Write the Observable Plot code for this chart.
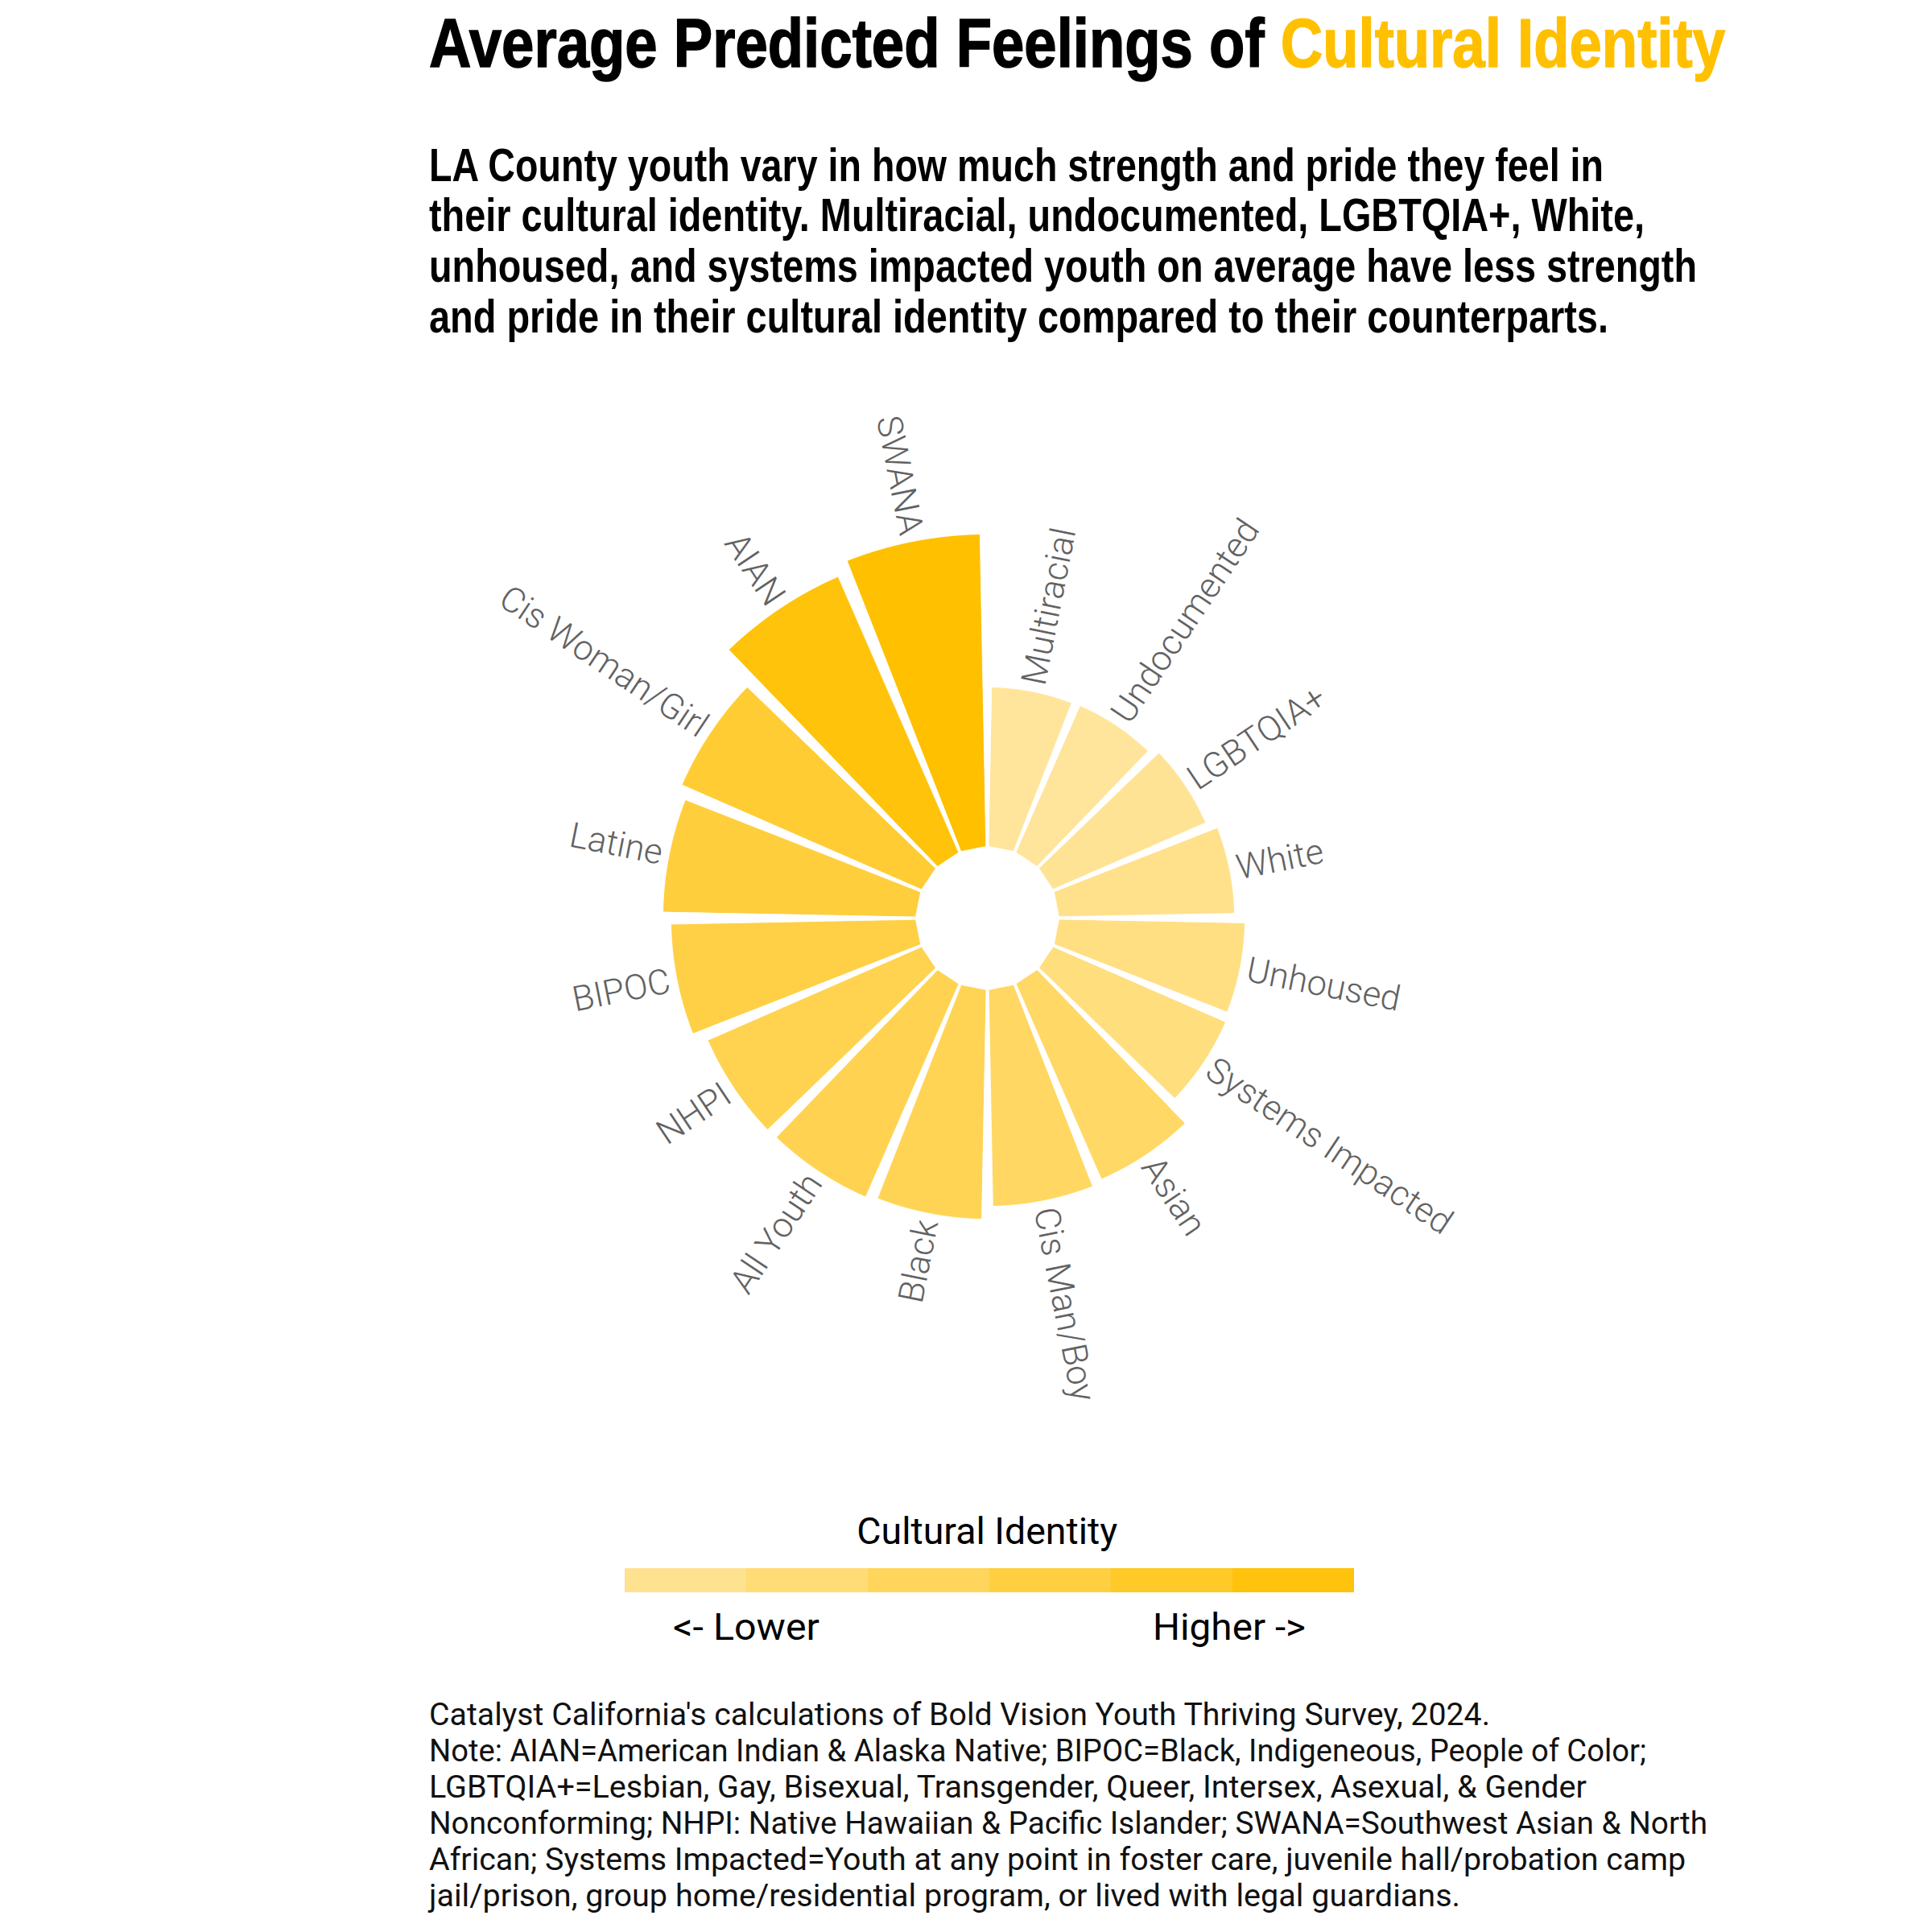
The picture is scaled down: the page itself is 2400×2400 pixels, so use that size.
<!DOCTYPE html>
<html>
<head>
<meta charset="utf-8">
<script src="https://cdn.jsdelivr.net/npm/d3@7"></script>
<script src="https://cdn.jsdelivr.net/npm/@observablehq/plot@0.6"></script>
<style>
  html, body { margin: 0; padding: 0; background: #fff; }
  #root { position: relative; width: 2400px; height: 2400px; background: #fff; overflow: hidden; }
  .line { position: absolute; white-space: pre; line-height: 1; display: inline-block; }
  #chart { position: absolute; left: 0; top: 470px; }
  #legendbar { position: absolute; left: 776px; top: 1948px; }
</style>
</head>
<body>
<div id="root"></div>
<script>
// ---------------- DATA ----------------
const categories = ["Multiracial", "Undocumented", "LGBTQIA+", "White", "Unhoused", "Systems Impacted",
  "Asian", "Cis Man/Boy", "Black", "All Youth", "NHPI", "BIPOC", "Latine", "Cis Woman/Girl", "AIAN", "SWANA"];
const values = [1.98, 1.99, 2.07, 2.18, 2.31, 2.34, 2.65, 2.69, 2.85, 2.89, 2.90, 3.04, 3.14, 3.25, 3.74, 3.88];
const legendSteps = [2.14, 2.46, 2.77, 3.09, 3.41, 3.72];
const legendTitle = "Cultural Identity";
const legendLow = "<- Lower";
const legendHigh = "Higher ->";
const titleParts = ["Average Predicted Feelings of ", "Cultural Identity"];
const subtitleLines = [
  "LA County youth vary in how much strength and pride they feel in",
  "their cultural identity. Multiracial, undocumented, LGBTQIA+, White,",
  "unhoused, and systems impacted youth on average have less strength",
  "and pride in their cultural identity compared to their counterparts."
];
const captionLines = [
  "Catalyst California's calculations of Bold Vision Youth Thriving Survey, 2024.",
  "Note: AIAN=American Indian & Alaska Native; BIPOC=Black, Indigeneous, People of Color;",
  "LGBTQIA+=Lesbian, Gay, Bisexual, Transgender, Queer, Intersex, Asexual, & Gender",
  "Nonconforming; NHPI: Native Hawaiian & Pacific Islander; SWANA=Southwest Asian & North",
  "African; Systems Impacted=Youth at any point in foster care, juvenile hall/probation camp",
  "jail/prison, group home/residential program, or lived with legal guardians."
];

const data = categories.map((category, i) => ({category, value: values[i]}));

// ---------------- SCALES ----------------
const GOLD = "#FFC000";
const colorOpts = {type: "linear", domain: [d3.min(values), d3.max(values)], range: ["#FFE59C", GOLD], interpolate: "rgb"};
const angle = d3.scaleBand(categories, [0, 360]);              // degrees, clockwise from top
const mid = (c) => angle(c) + angle.bandwidth() / 2;
const rScale = d3.scaleLinear([0, d3.max(values)], [89, 477]);  // radial scale (px)
const CX = 1226, CY = 670;                                       // polar origin inside the plot frame
const PAD = 1.1;                                                 // angular padding (deg) each side
const LABEL_GAP = 9 / (rScale(1) - rScale(0));                   // 9px in value units

const polar = () => d3.geoTransform({
  point(lon, lat) {
    const a = lon * Math.PI / 180, r = rScale(lat);
    this.stream.point(CX + r * Math.sin(a), CY - r * Math.cos(a));
  }
});

function barGeometry(d) {
  const a0 = angle(d.category) + PAD, a1 = angle(d.category) + angle.bandwidth() - PAD;
  const ring = [];
  const n = 48;
  for (let k = 0; k <= n; k++) ring.push([a0 + (a1 - a0) * k / n, d.value]);
  ring.push([a1, 0], [a0, 0], [a0, d.value]);
  return {type: "Polygon", coordinates: [ring]};
}

const rightSide = data.filter(d => mid(d.category) < 180);
const leftSide = data.filter(d => mid(d.category) >= 180);

const labelStyle = {fontSize: 43.5, fontWeight: 300, fill: "#626262", fontFamily: "Roboto"};

const chart = Plot.plot({
  width: 2400,
  height: 1330,
  margin: 0,
  style: {background: "transparent", fontFamily: "Roboto"},
  projection: {type: polar},
  color: colorOpts,
  marks: [
    Plot.geo(data, {geometry: barGeometry, fill: "value", stroke: "white", strokeWidth: 0.8}),
    Plot.text(rightSide, {
      x: d => mid(d.category), y: d => d.value + LABEL_GAP, text: "category",
      rotate: d => mid(d.category) - 90, textAnchor: "start", ...labelStyle
    }),
    Plot.text(leftSide, {
      x: d => mid(d.category), y: d => d.value + LABEL_GAP, text: "category",
      rotate: d => mid(d.category) - 270, textAnchor: "end", ...labelStyle
    })
  ]
});
chart.id = "chart";

const legendBar = Plot.plot({
  width: 906,
  height: 30,
  margin: 0,
  style: {background: "transparent"},
  x: {type: "band", domain: legendSteps, padding: 0, axis: null},
  color: colorOpts,
  marks: [Plot.cell(legendSteps, {x: d => d, fill: d => d})]
});
legendBar.id = "legendbar";

const root = document.getElementById("root");
root.appendChild(chart);
root.appendChild(legendBar);

// ---------------- TEXT LAYOUT ----------------
function addLine(parts, {x, baseline, size, family, weight = 400, color = "#000", width, anchor = "start", stroke = 0}) {
  const el = document.createElement("div");
  el.className = "line";
  el.style.fontFamily = family;
  el.style.fontSize = size + "px";
  el.style.fontWeight = weight;
  el.style.color = color;
  if (stroke) el.style.webkitTextStroke = stroke + "px currentColor";
  el.style.top = (baseline - 0.843 * size) + "px";
  (Array.isArray(parts) ? parts : [[parts, color]]).forEach(([t, c]) => {
    const s = document.createElement("span");
    s.textContent = t;
    s.style.color = c;
    el.appendChild(s);
  });
  root.appendChild(el);
  const w = el.getBoundingClientRect().width;
  const k = width / w;
  if (anchor === "middle") {
    el.style.left = (x - w / 2) + "px";
    el.style.transformOrigin = "50% 50%";
  } else {
    el.style.left = x + "px";
    el.style.transformOrigin = "0 50%";
  }
  el.style.transform = `scaleX(${k})`;
}

const NARROW = "'Liberation Sans Narrow', 'Liberation Sans', Arial, sans-serif";
addLine([[titleParts[0], "#000"], [titleParts[1], GOLD]],
  {x: 533, baseline: 82, size: 86, family: NARROW, weight: 700, width: 1610, stroke: 1.5});

const subBase = [225, 287, 350, 413];
const subW = [1459, 1510, 1575, 1465];
subtitleLines.forEach((t, i) => addLine(t, {x: 533, baseline: subBase[i], size: 57, family: NARROW, weight: 700, width: subW[i]}));

addLine(legendTitle, {x: 1226, baseline: 1918, size: 46, family: "Roboto", weight: 400, width: 324, anchor: "middle"});
addLine(legendLow, {x: 836, baseline: 2037, size: 46, family: "Roboto", weight: 400, width: 182});
addLine(legendHigh, {x: 1432, baseline: 2037, size: 46, family: "Roboto", weight: 400, width: 190});

const capW = [1318, 1512, 1438, 1588, 1561, 1281];
captionLines.forEach((t, i) => addLine(t, {x: 533, baseline: 2143 + 45 * i, size: 38, family: "Roboto", weight: 400, color: "#111", width: capW[i]}));
</script>
</body>
</html>
